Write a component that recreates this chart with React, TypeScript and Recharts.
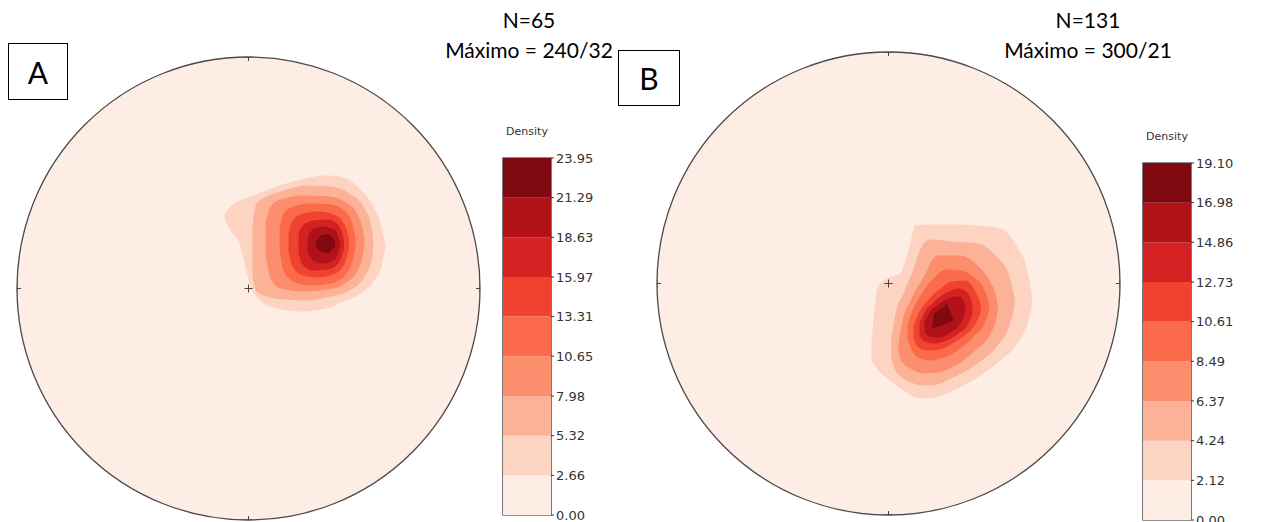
import React from "react";
import {
  ComposedChart, Area, Scatter, XAxis, YAxis, ReferenceDot,
  BarChart, Bar, ReferenceArea,
} from "recharts";

// Reds, one colour per density band (lowest first)
const DENSITY_COLORS = [
  "#feede4", "#fdd4c2", "#fcb296", "#fc8d6d", "#fb6a4a",
  "#f0432f", "#d42121", "#b01217", "#800811",
];

const NET_R = 231.5;

// cardinal ticks and centre of the net, in net units
const NET_MARKS = [
  { x: 0, y: 0, label: "" },
  { x: 0, y: NET_R, label: "N" },
  { x: NET_R, y: 0, label: "" },
  { x: 0, y: -NET_R, label: "" },
  { x: -NET_R, y: 0, label: "" },
];

// contour bands: [x, lower, upper] (centre = 0, edge = 231.5)
const A_C1 = [[-24, 70, 74], [-18, 58, 82], [-8, 42, 88], [-3, 22, 90], [2, 2, 92], [12, -12, 96], [28, -20, 102], [52, -23, 109], [78, -20, 113], [95, -13, 111], [112, -5, 99], [125, 7, 82], [133, 22, 62], [137, 42, 42]];
const A_C2 = [[4, 12, 62], [8, -3, 85], [18, -8, 92], [35, -11, 98], [58, -12, 103], [82, -8, 102], [101, -2, 95], [116, 12, 80], [123, 28, 62], [125, 44, 45]];
const A_C3 = [[17, 35, 65], [22, 10, 82], [32, 0, 89], [55, -3, 93], [80, -1, 92], [98, 6, 86], [110, 20, 72], [115, 38, 55], [116, 46, 48]];
const A_C4 = [[31, 40, 58], [35, 18, 75], [45, 7, 82], [62, 3, 85], [82, 5, 84], [97, 14, 77], [104, 28, 64], [107, 42, 50]];
const A_C5 = [[40, 38, 56], [44, 22, 68], [55, 13, 75], [70, 11, 77], [85, 14, 74], [96, 25, 64], [100.5, 40, 50]];
const A_C6 = [[50, 36, 54], [54, 24, 63], [65, 18, 68], [80, 19, 69], [91, 27, 62], [95.5, 40, 48]];
const A_C7 = [[59, 38, 50], [63, 29, 58], [74, 25, 62], [86, 29, 59], [91.5, 42, 47]];
const A_C8 = [[67.5, 41, 47], [72, 37, 53], [80, 35, 54.5], [86.5, 42, 48]];

const B_C1 = [[-17, -77, -60], [-10, -87, -2], [-1, -95, 5], [12, -105, 11], [20, -110, 33], [27, -114, 58], [39, -115, 59], [65, -107, 59], [89, -94, 58], [112, -77, 55], [129, -60, 36], [139, -40, 13], [143, -24, -10], [144, -17, -17]];
const B_C2 = [[2.7, -74, -57], [7, -87, -30], [15, -95, -10], [25, -100, 15], [35, -102, 40], [42, -102, 44], [65, -94, 42], [89, -80, 40], [109, -62, 26], [120, -44, 10], [125, -27, -10], [126.5, -18, -18]];
const B_C3 = [[10, -70, -60], [14, -79, -37], [22, -85, -17], [35, -90, 6], [49, -89, 28], [72, -79, 28], [89, -65, 18], [102, -50, 1], [108, -34, -14], [109.5, -23, -23]];
const B_C4 = [[19, -55, -42], [24, -68, -27], [32, -75, -12], [42, -77, 2], [58, -73, 14], [72, -65, 13], [86, -52, 6], [96, -40, -6], [100, -28, -18], [101, -23, -23]];
const B_C5 = [[25, -55, -42], [30, -64, -30], [40, -67, -16], [52, -66, -5], [64, -60, 2], [76, -52, 3], [86, -42, -6], [92, -30, -20]];
const B_C6 = [[31, -52, -40], [36, -58, -29], [46, -60, -18], [58, -57, -9], [70, -50, -5], [80, -40, -10], [84, -30, -22]];
const B_C7 = [[36, -48, -38], [41, -53, -29], [50, -54, -21], [62, -49, -14], [72, -40, -13], [77, -28, -24]];
const B_C8 = [[43.5, -45, -44], [45.5, -44.5, -30], [58.5, -40, -20.5], [65.5, -37, -37]];

const A_LEVELS = [0, 2.66, 5.32, 7.98, 10.65, 13.31, 15.97, 18.63, 21.29, 23.95];
const B_LEVELS = [0, 2.12, 4.24, 6.37, 8.49, 10.61, 12.73, 14.86, 16.98, 19.1];

const M = 16;
const SIZE = 2 * NET_R + 2 * M;
const CB_PAD = 12;

const toRows = (pts: number[][]) => pts.map(([x, lo, hi]) => ({ x, r: [lo, hi] }));

const Tick = (props: any) => {
  const { cx, cy, payload } = props;
  return (
    <g>
      <line x1={cx - 4} x2={cx + 4} y1={cy} y2={cy} stroke="#444" strokeWidth={1} />
      <line x1={cx} x2={cx} y1={cy - 4} y2={cy + 4} stroke="#444" strokeWidth={1} />
      {payload.label ? (
        <text x={cx} y={cy - 7} textAnchor="middle" fontSize={6} fill="#333" fontFamily="DejaVu Sans">
          {payload.label}
        </text>
      ) : null}
    </g>
  );
};

function Net({ bands, left, top }: { bands: number[][][]; left: number; top: number }) {
  const axes = [
    <XAxis key="x" type="number" dataKey="x" domain={[-NET_R, NET_R]} hide allowDataOverflow />,
    <YAxis key="y" type="number" domain={[-NET_R, NET_R]} hide allowDataOverflow />,
  ];
  return (
    <div style={{ position: "absolute", left, top, width: SIZE, height: SIZE }}>
      <div style={{ position: "absolute", left: 0, top: 0 }}>
        <ComposedChart width={SIZE} height={SIZE} data={[{ x: 0, y: 0 }]} margin={{ top: M, right: M, bottom: M, left: M }}>
          {axes}
          <ReferenceDot x={0} y={0} r={NET_R} fill={DENSITY_COLORS[0]} stroke="#4a4a4a" strokeWidth={1.3} ifOverflow="visible" />
        </ComposedChart>
      </div>
      <div style={{ position: "absolute", left: 0, top: 0 }}>
        <ComposedChart width={SIZE} height={SIZE} margin={{ top: M, right: M, bottom: M, left: M }}>
          {axes}
          {bands.map((b, i) => (
            <Area
              key={i}
              data={toRows(b)}
              dataKey="r"
              type={i === bands.length - 1 ? "linear" : "monotone"}
              fill={DENSITY_COLORS[i + 1]}
              fillOpacity={1}
              stroke="none"
              dot={false}
              activeDot={false}
              isAnimationActive={false}
            />
          ))}
          <Scatter data={NET_MARKS} dataKey="y" shape={Tick} isAnimationActive={false} />
        </ComposedChart>
      </div>
    </div>
  );
}

// top = y of the bar's upper edge on the page
function ColorBar({ levels, left, top, height }: { levels: number[]; left: number; top: number; height: number }) {
  const max = levels[levels.length - 1];
  const row: Record<string, any> = { name: "d" };
  levels.slice(1).forEach((v, i) => { row["b" + i] = v - levels[i]; });
  return (
    <div style={{ position: "absolute", left, top: top - CB_PAD }}>
      <div style={{ position: "absolute", left: 4, top: CB_PAD - 33, width: 48, textAlign: "center", fontFamily: "DejaVu Sans", fontSize: 11, color: "#333", whiteSpace: "nowrap" }}>
        Density
      </div>
      <BarChart width={100} height={height + 2 * CB_PAD} data={[row]} margin={{ top: CB_PAD, right: 0, bottom: CB_PAD, left: 4 }} barCategoryGap={0}>
        <XAxis dataKey="name" hide />
        <YAxis
          orientation="right"
          type="number"
          domain={[0, max]}
          ticks={levels}
          allowDataOverflow
          interval={0}
          tickFormatter={(v: number) => v.toFixed(2)}
          width={48}
          axisLine={false}
          tickSize={3}
          tickMargin={2}
          tickLine={{ stroke: "#333" }}
          tick={{ fill: "#333", fontSize: 13, fontFamily: "DejaVu Sans", textAnchor: "start" }}
        />
        {levels.slice(1).map((_, i) => (
          <Bar key={i} dataKey={"b" + i} stackId="c" fill={DENSITY_COLORS[i]} isAnimationActive={false} />
        ))}
        <ReferenceArea x1="d" x2="d" y1={0} y2={max} fill="none" stroke="#222" strokeWidth={1.2} ifOverflow="visible" />
      </BarChart>
    </div>
  );
}

const textStyle: React.CSSProperties = {
  position: "absolute", width: 220, textAlign: "center", fontFamily: "Lato", fontSize: 21,
  lineHeight: "30px", color: "#000", whiteSpace: "nowrap",
};
const boxStyle: React.CSSProperties = {
  position: "absolute", border: "1px solid #000", boxSizing: "border-box", display: "flex",
  alignItems: "center", justifyContent: "center", fontFamily: "Lato", fontSize: 30, background: "#fff",
};

export default function App() {
  return (
    <div style={{ position: "absolute", left: 0, top: 0, width: 1278, height: 522, overflow: "hidden", background: "#fff" }}>
      <Net bands={[A_C1, A_C2, A_C3, A_C4, A_C5, A_C6, A_C7, A_C8]} left={248.5 - NET_R - M} top={288.5 - NET_R - M} />
      <Net bands={[B_C1, B_C2, B_C3, B_C4, B_C5, B_C6, B_C7, B_C8]} left={888 - NET_R - M} top={283 - NET_R - M} />
      <ColorBar levels={A_LEVELS} left={499} top={158.3} height={357} />
      <ColorBar levels={B_LEVELS} left={1139} top={163.3} height={357} />
      <div style={{ ...textStyle, left: 419, top: 5 }}>
        <div>N=65</div>
        <div>Máximo = 240/32</div>
      </div>
      <div style={{ ...textStyle, left: 978, top: 5 }}>
        <div>N=131</div>
        <div>Máximo = 300/21</div>
      </div>
      <div style={{ ...boxStyle, left: 8, top: 43, width: 60, height: 57 }}>A</div>
      <div style={{ ...boxStyle, left: 618, top: 50, width: 62, height: 56 }}>B</div>
    </div>
  );
}
